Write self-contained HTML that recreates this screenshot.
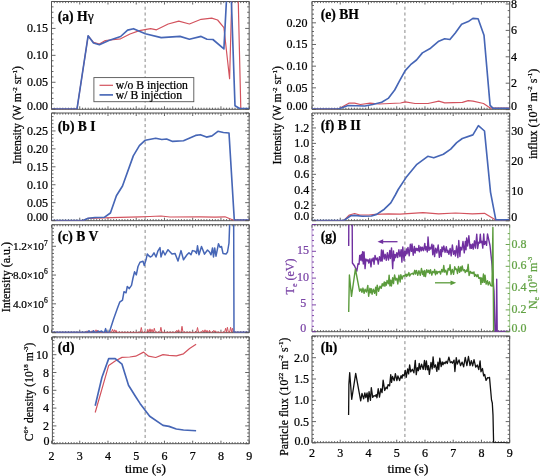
<!DOCTYPE html>
<html><head><meta charset="utf-8"><style>html,body{margin:0;padding:0;background:#fff;width:541px;height:476px;overflow:hidden}svg{will-change:transform}text{stroke-width:0.24px}</style></head><body>
<svg width="541" height="476" viewBox="0 0 541 476" style="display:block;font-family:'Liberation Serif',serif">
<rect width="541" height="476" fill="#fff"/>
<defs>
<clipPath id="clipa"><rect x="51.5" y="1.5" width="197.68" height="107.8"/></clipPath>
<clipPath id="clipb"><rect x="51.5" y="113" width="197.68" height="107.7"/></clipPath>
<clipPath id="clipc"><rect x="52" y="224.7" width="197.18" height="108"/></clipPath>
<clipPath id="clipd"><rect x="52.4" y="336.9" width="196.78" height="106.8"/></clipPath>
<clipPath id="clipe"><rect x="312" y="1.5" width="197.68" height="107.8"/></clipPath>
<clipPath id="clipf"><rect x="312" y="113" width="197.68" height="107.7"/></clipPath>
<clipPath id="clipg"><rect x="312" y="224.7" width="197.68" height="107"/></clipPath>
<clipPath id="cliph"><rect x="312" y="335.9" width="197.68" height="106.8"/></clipPath>
</defs>
<line x1="51.5" y1="1.5" x2="249.18" y2="1.5" stroke="#555555" stroke-width="1.0"/>
<line x1="51.5" y1="109.3" x2="249.18" y2="109.3" stroke="#555555" stroke-width="1.0"/>
<line x1="51.5" y1="1.5" x2="51.5" y2="109.3" stroke="#555555" stroke-width="1.0"/>
<line x1="249.18" y1="1.5" x2="249.18" y2="109.3" stroke="#555555" stroke-width="1.0"/>
<path d="M51.5 109.3v-3.0M51.5 1.5v3.0M54.32 109.3v-1.6M54.32 1.5v1.6M57.15 109.3v-1.6M57.15 1.5v1.6M59.97 109.3v-1.6M59.97 1.5v1.6M62.8 109.3v-1.6M62.8 1.5v1.6M65.62 109.3v-1.6M65.62 1.5v1.6M68.44 109.3v-1.6M68.44 1.5v1.6M71.27 109.3v-1.6M71.27 1.5v1.6M74.09 109.3v-1.6M74.09 1.5v1.6M76.92 109.3v-1.6M76.92 1.5v1.6M79.74 109.3v-3.0M79.74 1.5v3.0M82.56 109.3v-1.6M82.56 1.5v1.6M85.39 109.3v-1.6M85.39 1.5v1.6M88.21 109.3v-1.6M88.21 1.5v1.6M91.04 109.3v-1.6M91.04 1.5v1.6M93.86 109.3v-1.6M93.86 1.5v1.6M96.68 109.3v-1.6M96.68 1.5v1.6M99.51 109.3v-1.6M99.51 1.5v1.6M102.33 109.3v-1.6M102.33 1.5v1.6M105.16 109.3v-1.6M105.16 1.5v1.6M107.98 109.3v-3.0M107.98 1.5v3.0M110.8 109.3v-1.6M110.8 1.5v1.6M113.63 109.3v-1.6M113.63 1.5v1.6M116.45 109.3v-1.6M116.45 1.5v1.6M119.28 109.3v-1.6M119.28 1.5v1.6M122.1 109.3v-1.6M122.1 1.5v1.6M124.92 109.3v-1.6M124.92 1.5v1.6M127.75 109.3v-1.6M127.75 1.5v1.6M130.57 109.3v-1.6M130.57 1.5v1.6M133.4 109.3v-1.6M133.4 1.5v1.6M136.22 109.3v-3.0M136.22 1.5v3.0M139.04 109.3v-1.6M139.04 1.5v1.6M141.87 109.3v-1.6M141.87 1.5v1.6M144.69 109.3v-1.6M144.69 1.5v1.6M147.52 109.3v-1.6M147.52 1.5v1.6M150.34 109.3v-1.6M150.34 1.5v1.6M153.16 109.3v-1.6M153.16 1.5v1.6M155.99 109.3v-1.6M155.99 1.5v1.6M158.81 109.3v-1.6M158.81 1.5v1.6M161.64 109.3v-1.6M161.64 1.5v1.6M164.46 109.3v-3.0M164.46 1.5v3.0M167.28 109.3v-1.6M167.28 1.5v1.6M170.11 109.3v-1.6M170.11 1.5v1.6M172.93 109.3v-1.6M172.93 1.5v1.6M175.76 109.3v-1.6M175.76 1.5v1.6M178.58 109.3v-1.6M178.58 1.5v1.6M181.4 109.3v-1.6M181.4 1.5v1.6M184.23 109.3v-1.6M184.23 1.5v1.6M187.05 109.3v-1.6M187.05 1.5v1.6M189.88 109.3v-1.6M189.88 1.5v1.6M192.7 109.3v-3.0M192.7 1.5v3.0M195.52 109.3v-1.6M195.52 1.5v1.6M198.35 109.3v-1.6M198.35 1.5v1.6M201.17 109.3v-1.6M201.17 1.5v1.6M204 109.3v-1.6M204 1.5v1.6M206.82 109.3v-1.6M206.82 1.5v1.6M209.64 109.3v-1.6M209.64 1.5v1.6M212.47 109.3v-1.6M212.47 1.5v1.6M215.29 109.3v-1.6M215.29 1.5v1.6M218.12 109.3v-1.6M218.12 1.5v1.6M220.94 109.3v-3.0M220.94 1.5v3.0M223.76 109.3v-1.6M223.76 1.5v1.6M226.59 109.3v-1.6M226.59 1.5v1.6M229.41 109.3v-1.6M229.41 1.5v1.6M232.24 109.3v-1.6M232.24 1.5v1.6M235.06 109.3v-1.6M235.06 1.5v1.6M237.88 109.3v-1.6M237.88 1.5v1.6M240.71 109.3v-1.6M240.71 1.5v1.6M243.53 109.3v-1.6M243.53 1.5v1.6M246.36 109.3v-1.6M246.36 1.5v1.6M249.18 109.3v-3.0M249.18 1.5v3.0" stroke="#555555" stroke-width="0.9" fill="none"/>
<line x1="51.5" y1="113" x2="249.18" y2="113" stroke="#555555" stroke-width="1.0"/>
<line x1="51.5" y1="220.7" x2="249.18" y2="220.7" stroke="#555555" stroke-width="1.0"/>
<line x1="51.5" y1="113" x2="51.5" y2="220.7" stroke="#555555" stroke-width="1.0"/>
<line x1="249.18" y1="113" x2="249.18" y2="220.7" stroke="#555555" stroke-width="1.0"/>
<path d="M51.5 220.7v-3.0M51.5 113v3.0M54.32 220.7v-1.6M54.32 113v1.6M57.15 220.7v-1.6M57.15 113v1.6M59.97 220.7v-1.6M59.97 113v1.6M62.8 220.7v-1.6M62.8 113v1.6M65.62 220.7v-1.6M65.62 113v1.6M68.44 220.7v-1.6M68.44 113v1.6M71.27 220.7v-1.6M71.27 113v1.6M74.09 220.7v-1.6M74.09 113v1.6M76.92 220.7v-1.6M76.92 113v1.6M79.74 220.7v-3.0M79.74 113v3.0M82.56 220.7v-1.6M82.56 113v1.6M85.39 220.7v-1.6M85.39 113v1.6M88.21 220.7v-1.6M88.21 113v1.6M91.04 220.7v-1.6M91.04 113v1.6M93.86 220.7v-1.6M93.86 113v1.6M96.68 220.7v-1.6M96.68 113v1.6M99.51 220.7v-1.6M99.51 113v1.6M102.33 220.7v-1.6M102.33 113v1.6M105.16 220.7v-1.6M105.16 113v1.6M107.98 220.7v-3.0M107.98 113v3.0M110.8 220.7v-1.6M110.8 113v1.6M113.63 220.7v-1.6M113.63 113v1.6M116.45 220.7v-1.6M116.45 113v1.6M119.28 220.7v-1.6M119.28 113v1.6M122.1 220.7v-1.6M122.1 113v1.6M124.92 220.7v-1.6M124.92 113v1.6M127.75 220.7v-1.6M127.75 113v1.6M130.57 220.7v-1.6M130.57 113v1.6M133.4 220.7v-1.6M133.4 113v1.6M136.22 220.7v-3.0M136.22 113v3.0M139.04 220.7v-1.6M139.04 113v1.6M141.87 220.7v-1.6M141.87 113v1.6M144.69 220.7v-1.6M144.69 113v1.6M147.52 220.7v-1.6M147.52 113v1.6M150.34 220.7v-1.6M150.34 113v1.6M153.16 220.7v-1.6M153.16 113v1.6M155.99 220.7v-1.6M155.99 113v1.6M158.81 220.7v-1.6M158.81 113v1.6M161.64 220.7v-1.6M161.64 113v1.6M164.46 220.7v-3.0M164.46 113v3.0M167.28 220.7v-1.6M167.28 113v1.6M170.11 220.7v-1.6M170.11 113v1.6M172.93 220.7v-1.6M172.93 113v1.6M175.76 220.7v-1.6M175.76 113v1.6M178.58 220.7v-1.6M178.58 113v1.6M181.4 220.7v-1.6M181.4 113v1.6M184.23 220.7v-1.6M184.23 113v1.6M187.05 220.7v-1.6M187.05 113v1.6M189.88 220.7v-1.6M189.88 113v1.6M192.7 220.7v-3.0M192.7 113v3.0M195.52 220.7v-1.6M195.52 113v1.6M198.35 220.7v-1.6M198.35 113v1.6M201.17 220.7v-1.6M201.17 113v1.6M204 220.7v-1.6M204 113v1.6M206.82 220.7v-1.6M206.82 113v1.6M209.64 220.7v-1.6M209.64 113v1.6M212.47 220.7v-1.6M212.47 113v1.6M215.29 220.7v-1.6M215.29 113v1.6M218.12 220.7v-1.6M218.12 113v1.6M220.94 220.7v-3.0M220.94 113v3.0M223.76 220.7v-1.6M223.76 113v1.6M226.59 220.7v-1.6M226.59 113v1.6M229.41 220.7v-1.6M229.41 113v1.6M232.24 220.7v-1.6M232.24 113v1.6M235.06 220.7v-1.6M235.06 113v1.6M237.88 220.7v-1.6M237.88 113v1.6M240.71 220.7v-1.6M240.71 113v1.6M243.53 220.7v-1.6M243.53 113v1.6M246.36 220.7v-1.6M246.36 113v1.6M249.18 220.7v-3.0M249.18 113v3.0" stroke="#555555" stroke-width="0.9" fill="none"/>
<line x1="52" y1="224.7" x2="249.18" y2="224.7" stroke="#555555" stroke-width="1.0"/>
<line x1="52" y1="332.7" x2="249.18" y2="332.7" stroke="#555555" stroke-width="1.0"/>
<line x1="52" y1="224.7" x2="52" y2="332.7" stroke="#555555" stroke-width="1.0"/>
<line x1="249.18" y1="224.7" x2="249.18" y2="332.7" stroke="#555555" stroke-width="1.0"/>
<path d="M51.5 332.7v-3.0M51.5 224.7v3.0M54.32 332.7v-1.6M54.32 224.7v1.6M57.15 332.7v-1.6M57.15 224.7v1.6M59.97 332.7v-1.6M59.97 224.7v1.6M62.8 332.7v-1.6M62.8 224.7v1.6M65.62 332.7v-1.6M65.62 224.7v1.6M68.44 332.7v-1.6M68.44 224.7v1.6M71.27 332.7v-1.6M71.27 224.7v1.6M74.09 332.7v-1.6M74.09 224.7v1.6M76.92 332.7v-1.6M76.92 224.7v1.6M79.74 332.7v-3.0M79.74 224.7v3.0M82.56 332.7v-1.6M82.56 224.7v1.6M85.39 332.7v-1.6M85.39 224.7v1.6M88.21 332.7v-1.6M88.21 224.7v1.6M91.04 332.7v-1.6M91.04 224.7v1.6M93.86 332.7v-1.6M93.86 224.7v1.6M96.68 332.7v-1.6M96.68 224.7v1.6M99.51 332.7v-1.6M99.51 224.7v1.6M102.33 332.7v-1.6M102.33 224.7v1.6M105.16 332.7v-1.6M105.16 224.7v1.6M107.98 332.7v-3.0M107.98 224.7v3.0M110.8 332.7v-1.6M110.8 224.7v1.6M113.63 332.7v-1.6M113.63 224.7v1.6M116.45 332.7v-1.6M116.45 224.7v1.6M119.28 332.7v-1.6M119.28 224.7v1.6M122.1 332.7v-1.6M122.1 224.7v1.6M124.92 332.7v-1.6M124.92 224.7v1.6M127.75 332.7v-1.6M127.75 224.7v1.6M130.57 332.7v-1.6M130.57 224.7v1.6M133.4 332.7v-1.6M133.4 224.7v1.6M136.22 332.7v-3.0M136.22 224.7v3.0M139.04 332.7v-1.6M139.04 224.7v1.6M141.87 332.7v-1.6M141.87 224.7v1.6M144.69 332.7v-1.6M144.69 224.7v1.6M147.52 332.7v-1.6M147.52 224.7v1.6M150.34 332.7v-1.6M150.34 224.7v1.6M153.16 332.7v-1.6M153.16 224.7v1.6M155.99 332.7v-1.6M155.99 224.7v1.6M158.81 332.7v-1.6M158.81 224.7v1.6M161.64 332.7v-1.6M161.64 224.7v1.6M164.46 332.7v-3.0M164.46 224.7v3.0M167.28 332.7v-1.6M167.28 224.7v1.6M170.11 332.7v-1.6M170.11 224.7v1.6M172.93 332.7v-1.6M172.93 224.7v1.6M175.76 332.7v-1.6M175.76 224.7v1.6M178.58 332.7v-1.6M178.58 224.7v1.6M181.4 332.7v-1.6M181.4 224.7v1.6M184.23 332.7v-1.6M184.23 224.7v1.6M187.05 332.7v-1.6M187.05 224.7v1.6M189.88 332.7v-1.6M189.88 224.7v1.6M192.7 332.7v-3.0M192.7 224.7v3.0M195.52 332.7v-1.6M195.52 224.7v1.6M198.35 332.7v-1.6M198.35 224.7v1.6M201.17 332.7v-1.6M201.17 224.7v1.6M204 332.7v-1.6M204 224.7v1.6M206.82 332.7v-1.6M206.82 224.7v1.6M209.64 332.7v-1.6M209.64 224.7v1.6M212.47 332.7v-1.6M212.47 224.7v1.6M215.29 332.7v-1.6M215.29 224.7v1.6M218.12 332.7v-1.6M218.12 224.7v1.6M220.94 332.7v-3.0M220.94 224.7v3.0M223.76 332.7v-1.6M223.76 224.7v1.6M226.59 332.7v-1.6M226.59 224.7v1.6M229.41 332.7v-1.6M229.41 224.7v1.6M232.24 332.7v-1.6M232.24 224.7v1.6M235.06 332.7v-1.6M235.06 224.7v1.6M237.88 332.7v-1.6M237.88 224.7v1.6M240.71 332.7v-1.6M240.71 224.7v1.6M243.53 332.7v-1.6M243.53 224.7v1.6M246.36 332.7v-1.6M246.36 224.7v1.6M249.18 332.7v-3.0M249.18 224.7v3.0" stroke="#555555" stroke-width="0.9" fill="none"/>
<line x1="52.4" y1="336.9" x2="249.18" y2="336.9" stroke="#555555" stroke-width="1.0"/>
<line x1="52.4" y1="443.7" x2="249.18" y2="443.7" stroke="#555555" stroke-width="1.0"/>
<line x1="52.4" y1="336.9" x2="52.4" y2="443.7" stroke="#555555" stroke-width="1.0"/>
<line x1="249.18" y1="336.9" x2="249.18" y2="443.7" stroke="#555555" stroke-width="1.0"/>
<path d="M51.5 443.7v-3.0M51.5 336.9v3.0M54.32 443.7v-1.6M54.32 336.9v1.6M57.15 443.7v-1.6M57.15 336.9v1.6M59.97 443.7v-1.6M59.97 336.9v1.6M62.8 443.7v-1.6M62.8 336.9v1.6M65.62 443.7v-1.6M65.62 336.9v1.6M68.44 443.7v-1.6M68.44 336.9v1.6M71.27 443.7v-1.6M71.27 336.9v1.6M74.09 443.7v-1.6M74.09 336.9v1.6M76.92 443.7v-1.6M76.92 336.9v1.6M79.74 443.7v-3.0M79.74 336.9v3.0M82.56 443.7v-1.6M82.56 336.9v1.6M85.39 443.7v-1.6M85.39 336.9v1.6M88.21 443.7v-1.6M88.21 336.9v1.6M91.04 443.7v-1.6M91.04 336.9v1.6M93.86 443.7v-1.6M93.86 336.9v1.6M96.68 443.7v-1.6M96.68 336.9v1.6M99.51 443.7v-1.6M99.51 336.9v1.6M102.33 443.7v-1.6M102.33 336.9v1.6M105.16 443.7v-1.6M105.16 336.9v1.6M107.98 443.7v-3.0M107.98 336.9v3.0M110.8 443.7v-1.6M110.8 336.9v1.6M113.63 443.7v-1.6M113.63 336.9v1.6M116.45 443.7v-1.6M116.45 336.9v1.6M119.28 443.7v-1.6M119.28 336.9v1.6M122.1 443.7v-1.6M122.1 336.9v1.6M124.92 443.7v-1.6M124.92 336.9v1.6M127.75 443.7v-1.6M127.75 336.9v1.6M130.57 443.7v-1.6M130.57 336.9v1.6M133.4 443.7v-1.6M133.4 336.9v1.6M136.22 443.7v-3.0M136.22 336.9v3.0M139.04 443.7v-1.6M139.04 336.9v1.6M141.87 443.7v-1.6M141.87 336.9v1.6M144.69 443.7v-1.6M144.69 336.9v1.6M147.52 443.7v-1.6M147.52 336.9v1.6M150.34 443.7v-1.6M150.34 336.9v1.6M153.16 443.7v-1.6M153.16 336.9v1.6M155.99 443.7v-1.6M155.99 336.9v1.6M158.81 443.7v-1.6M158.81 336.9v1.6M161.64 443.7v-1.6M161.64 336.9v1.6M164.46 443.7v-3.0M164.46 336.9v3.0M167.28 443.7v-1.6M167.28 336.9v1.6M170.11 443.7v-1.6M170.11 336.9v1.6M172.93 443.7v-1.6M172.93 336.9v1.6M175.76 443.7v-1.6M175.76 336.9v1.6M178.58 443.7v-1.6M178.58 336.9v1.6M181.4 443.7v-1.6M181.4 336.9v1.6M184.23 443.7v-1.6M184.23 336.9v1.6M187.05 443.7v-1.6M187.05 336.9v1.6M189.88 443.7v-1.6M189.88 336.9v1.6M192.7 443.7v-3.0M192.7 336.9v3.0M195.52 443.7v-1.6M195.52 336.9v1.6M198.35 443.7v-1.6M198.35 336.9v1.6M201.17 443.7v-1.6M201.17 336.9v1.6M204 443.7v-1.6M204 336.9v1.6M206.82 443.7v-1.6M206.82 336.9v1.6M209.64 443.7v-1.6M209.64 336.9v1.6M212.47 443.7v-1.6M212.47 336.9v1.6M215.29 443.7v-1.6M215.29 336.9v1.6M218.12 443.7v-1.6M218.12 336.9v1.6M220.94 443.7v-3.0M220.94 336.9v3.0M223.76 443.7v-1.6M223.76 336.9v1.6M226.59 443.7v-1.6M226.59 336.9v1.6M229.41 443.7v-1.6M229.41 336.9v1.6M232.24 443.7v-1.6M232.24 336.9v1.6M235.06 443.7v-1.6M235.06 336.9v1.6M237.88 443.7v-1.6M237.88 336.9v1.6M240.71 443.7v-1.6M240.71 336.9v1.6M243.53 443.7v-1.6M243.53 336.9v1.6M246.36 443.7v-1.6M246.36 336.9v1.6M249.18 443.7v-3.0M249.18 336.9v3.0" stroke="#555555" stroke-width="0.9" fill="none"/>
<line x1="312" y1="1.5" x2="509.68" y2="1.5" stroke="#555555" stroke-width="1.0"/>
<line x1="312" y1="109.3" x2="509.68" y2="109.3" stroke="#555555" stroke-width="1.0"/>
<line x1="312" y1="1.5" x2="312" y2="109.3" stroke="#555555" stroke-width="1.0"/>
<line x1="509.68" y1="1.5" x2="509.68" y2="109.3" stroke="#555555" stroke-width="1.0"/>
<path d="M312 109.3v-3.0M312 1.5v3.0M314.82 109.3v-1.6M314.82 1.5v1.6M317.65 109.3v-1.6M317.65 1.5v1.6M320.47 109.3v-1.6M320.47 1.5v1.6M323.3 109.3v-1.6M323.3 1.5v1.6M326.12 109.3v-1.6M326.12 1.5v1.6M328.94 109.3v-1.6M328.94 1.5v1.6M331.77 109.3v-1.6M331.77 1.5v1.6M334.59 109.3v-1.6M334.59 1.5v1.6M337.42 109.3v-1.6M337.42 1.5v1.6M340.24 109.3v-3.0M340.24 1.5v3.0M343.06 109.3v-1.6M343.06 1.5v1.6M345.89 109.3v-1.6M345.89 1.5v1.6M348.71 109.3v-1.6M348.71 1.5v1.6M351.54 109.3v-1.6M351.54 1.5v1.6M354.36 109.3v-1.6M354.36 1.5v1.6M357.18 109.3v-1.6M357.18 1.5v1.6M360.01 109.3v-1.6M360.01 1.5v1.6M362.83 109.3v-1.6M362.83 1.5v1.6M365.66 109.3v-1.6M365.66 1.5v1.6M368.48 109.3v-3.0M368.48 1.5v3.0M371.3 109.3v-1.6M371.3 1.5v1.6M374.13 109.3v-1.6M374.13 1.5v1.6M376.95 109.3v-1.6M376.95 1.5v1.6M379.78 109.3v-1.6M379.78 1.5v1.6M382.6 109.3v-1.6M382.6 1.5v1.6M385.42 109.3v-1.6M385.42 1.5v1.6M388.25 109.3v-1.6M388.25 1.5v1.6M391.07 109.3v-1.6M391.07 1.5v1.6M393.9 109.3v-1.6M393.9 1.5v1.6M396.72 109.3v-3.0M396.72 1.5v3.0M399.54 109.3v-1.6M399.54 1.5v1.6M402.37 109.3v-1.6M402.37 1.5v1.6M405.19 109.3v-1.6M405.19 1.5v1.6M408.02 109.3v-1.6M408.02 1.5v1.6M410.84 109.3v-1.6M410.84 1.5v1.6M413.66 109.3v-1.6M413.66 1.5v1.6M416.49 109.3v-1.6M416.49 1.5v1.6M419.31 109.3v-1.6M419.31 1.5v1.6M422.14 109.3v-1.6M422.14 1.5v1.6M424.96 109.3v-3.0M424.96 1.5v3.0M427.78 109.3v-1.6M427.78 1.5v1.6M430.61 109.3v-1.6M430.61 1.5v1.6M433.43 109.3v-1.6M433.43 1.5v1.6M436.26 109.3v-1.6M436.26 1.5v1.6M439.08 109.3v-1.6M439.08 1.5v1.6M441.9 109.3v-1.6M441.9 1.5v1.6M444.73 109.3v-1.6M444.73 1.5v1.6M447.55 109.3v-1.6M447.55 1.5v1.6M450.38 109.3v-1.6M450.38 1.5v1.6M453.2 109.3v-3.0M453.2 1.5v3.0M456.02 109.3v-1.6M456.02 1.5v1.6M458.85 109.3v-1.6M458.85 1.5v1.6M461.67 109.3v-1.6M461.67 1.5v1.6M464.5 109.3v-1.6M464.5 1.5v1.6M467.32 109.3v-1.6M467.32 1.5v1.6M470.14 109.3v-1.6M470.14 1.5v1.6M472.97 109.3v-1.6M472.97 1.5v1.6M475.79 109.3v-1.6M475.79 1.5v1.6M478.62 109.3v-1.6M478.62 1.5v1.6M481.44 109.3v-3.0M481.44 1.5v3.0M484.26 109.3v-1.6M484.26 1.5v1.6M487.09 109.3v-1.6M487.09 1.5v1.6M489.91 109.3v-1.6M489.91 1.5v1.6M492.74 109.3v-1.6M492.74 1.5v1.6M495.56 109.3v-1.6M495.56 1.5v1.6M498.38 109.3v-1.6M498.38 1.5v1.6M501.21 109.3v-1.6M501.21 1.5v1.6M504.03 109.3v-1.6M504.03 1.5v1.6M506.86 109.3v-1.6M506.86 1.5v1.6M509.68 109.3v-3.0M509.68 1.5v3.0" stroke="#555555" stroke-width="0.9" fill="none"/>
<line x1="312" y1="113" x2="509.68" y2="113" stroke="#555555" stroke-width="1.0"/>
<line x1="312" y1="220.7" x2="509.68" y2="220.7" stroke="#555555" stroke-width="1.0"/>
<line x1="312" y1="113" x2="312" y2="220.7" stroke="#555555" stroke-width="1.0"/>
<line x1="509.68" y1="113" x2="509.68" y2="220.7" stroke="#555555" stroke-width="1.0"/>
<path d="M312 220.7v-3.0M312 113v3.0M314.82 220.7v-1.6M314.82 113v1.6M317.65 220.7v-1.6M317.65 113v1.6M320.47 220.7v-1.6M320.47 113v1.6M323.3 220.7v-1.6M323.3 113v1.6M326.12 220.7v-1.6M326.12 113v1.6M328.94 220.7v-1.6M328.94 113v1.6M331.77 220.7v-1.6M331.77 113v1.6M334.59 220.7v-1.6M334.59 113v1.6M337.42 220.7v-1.6M337.42 113v1.6M340.24 220.7v-3.0M340.24 113v3.0M343.06 220.7v-1.6M343.06 113v1.6M345.89 220.7v-1.6M345.89 113v1.6M348.71 220.7v-1.6M348.71 113v1.6M351.54 220.7v-1.6M351.54 113v1.6M354.36 220.7v-1.6M354.36 113v1.6M357.18 220.7v-1.6M357.18 113v1.6M360.01 220.7v-1.6M360.01 113v1.6M362.83 220.7v-1.6M362.83 113v1.6M365.66 220.7v-1.6M365.66 113v1.6M368.48 220.7v-3.0M368.48 113v3.0M371.3 220.7v-1.6M371.3 113v1.6M374.13 220.7v-1.6M374.13 113v1.6M376.95 220.7v-1.6M376.95 113v1.6M379.78 220.7v-1.6M379.78 113v1.6M382.6 220.7v-1.6M382.6 113v1.6M385.42 220.7v-1.6M385.42 113v1.6M388.25 220.7v-1.6M388.25 113v1.6M391.07 220.7v-1.6M391.07 113v1.6M393.9 220.7v-1.6M393.9 113v1.6M396.72 220.7v-3.0M396.72 113v3.0M399.54 220.7v-1.6M399.54 113v1.6M402.37 220.7v-1.6M402.37 113v1.6M405.19 220.7v-1.6M405.19 113v1.6M408.02 220.7v-1.6M408.02 113v1.6M410.84 220.7v-1.6M410.84 113v1.6M413.66 220.7v-1.6M413.66 113v1.6M416.49 220.7v-1.6M416.49 113v1.6M419.31 220.7v-1.6M419.31 113v1.6M422.14 220.7v-1.6M422.14 113v1.6M424.96 220.7v-3.0M424.96 113v3.0M427.78 220.7v-1.6M427.78 113v1.6M430.61 220.7v-1.6M430.61 113v1.6M433.43 220.7v-1.6M433.43 113v1.6M436.26 220.7v-1.6M436.26 113v1.6M439.08 220.7v-1.6M439.08 113v1.6M441.9 220.7v-1.6M441.9 113v1.6M444.73 220.7v-1.6M444.73 113v1.6M447.55 220.7v-1.6M447.55 113v1.6M450.38 220.7v-1.6M450.38 113v1.6M453.2 220.7v-3.0M453.2 113v3.0M456.02 220.7v-1.6M456.02 113v1.6M458.85 220.7v-1.6M458.85 113v1.6M461.67 220.7v-1.6M461.67 113v1.6M464.5 220.7v-1.6M464.5 113v1.6M467.32 220.7v-1.6M467.32 113v1.6M470.14 220.7v-1.6M470.14 113v1.6M472.97 220.7v-1.6M472.97 113v1.6M475.79 220.7v-1.6M475.79 113v1.6M478.62 220.7v-1.6M478.62 113v1.6M481.44 220.7v-3.0M481.44 113v3.0M484.26 220.7v-1.6M484.26 113v1.6M487.09 220.7v-1.6M487.09 113v1.6M489.91 220.7v-1.6M489.91 113v1.6M492.74 220.7v-1.6M492.74 113v1.6M495.56 220.7v-1.6M495.56 113v1.6M498.38 220.7v-1.6M498.38 113v1.6M501.21 220.7v-1.6M501.21 113v1.6M504.03 220.7v-1.6M504.03 113v1.6M506.86 220.7v-1.6M506.86 113v1.6M509.68 220.7v-3.0M509.68 113v3.0" stroke="#555555" stroke-width="0.9" fill="none"/>
<line x1="312" y1="224.7" x2="509.68" y2="224.7" stroke="#555555" stroke-width="1.0"/>
<line x1="312" y1="331.7" x2="509.68" y2="331.7" stroke="#555555" stroke-width="1.0"/>
<line x1="312" y1="224.7" x2="312" y2="331.7" stroke="#b99ad0" stroke-width="1.0"/>
<line x1="509.68" y1="224.7" x2="509.68" y2="331.7" stroke="#9cc58a" stroke-width="1.0"/>
<path d="M312 331.7v-3.0M312 224.7v3.0M314.82 331.7v-1.6M314.82 224.7v1.6M317.65 331.7v-1.6M317.65 224.7v1.6M320.47 331.7v-1.6M320.47 224.7v1.6M323.3 331.7v-1.6M323.3 224.7v1.6M326.12 331.7v-1.6M326.12 224.7v1.6M328.94 331.7v-1.6M328.94 224.7v1.6M331.77 331.7v-1.6M331.77 224.7v1.6M334.59 331.7v-1.6M334.59 224.7v1.6M337.42 331.7v-1.6M337.42 224.7v1.6M340.24 331.7v-3.0M340.24 224.7v3.0M343.06 331.7v-1.6M343.06 224.7v1.6M345.89 331.7v-1.6M345.89 224.7v1.6M348.71 331.7v-1.6M348.71 224.7v1.6M351.54 331.7v-1.6M351.54 224.7v1.6M354.36 331.7v-1.6M354.36 224.7v1.6M357.18 331.7v-1.6M357.18 224.7v1.6M360.01 331.7v-1.6M360.01 224.7v1.6M362.83 331.7v-1.6M362.83 224.7v1.6M365.66 331.7v-1.6M365.66 224.7v1.6M368.48 331.7v-3.0M368.48 224.7v3.0M371.3 331.7v-1.6M371.3 224.7v1.6M374.13 331.7v-1.6M374.13 224.7v1.6M376.95 331.7v-1.6M376.95 224.7v1.6M379.78 331.7v-1.6M379.78 224.7v1.6M382.6 331.7v-1.6M382.6 224.7v1.6M385.42 331.7v-1.6M385.42 224.7v1.6M388.25 331.7v-1.6M388.25 224.7v1.6M391.07 331.7v-1.6M391.07 224.7v1.6M393.9 331.7v-1.6M393.9 224.7v1.6M396.72 331.7v-3.0M396.72 224.7v3.0M399.54 331.7v-1.6M399.54 224.7v1.6M402.37 331.7v-1.6M402.37 224.7v1.6M405.19 331.7v-1.6M405.19 224.7v1.6M408.02 331.7v-1.6M408.02 224.7v1.6M410.84 331.7v-1.6M410.84 224.7v1.6M413.66 331.7v-1.6M413.66 224.7v1.6M416.49 331.7v-1.6M416.49 224.7v1.6M419.31 331.7v-1.6M419.31 224.7v1.6M422.14 331.7v-1.6M422.14 224.7v1.6M424.96 331.7v-3.0M424.96 224.7v3.0M427.78 331.7v-1.6M427.78 224.7v1.6M430.61 331.7v-1.6M430.61 224.7v1.6M433.43 331.7v-1.6M433.43 224.7v1.6M436.26 331.7v-1.6M436.26 224.7v1.6M439.08 331.7v-1.6M439.08 224.7v1.6M441.9 331.7v-1.6M441.9 224.7v1.6M444.73 331.7v-1.6M444.73 224.7v1.6M447.55 331.7v-1.6M447.55 224.7v1.6M450.38 331.7v-1.6M450.38 224.7v1.6M453.2 331.7v-3.0M453.2 224.7v3.0M456.02 331.7v-1.6M456.02 224.7v1.6M458.85 331.7v-1.6M458.85 224.7v1.6M461.67 331.7v-1.6M461.67 224.7v1.6M464.5 331.7v-1.6M464.5 224.7v1.6M467.32 331.7v-1.6M467.32 224.7v1.6M470.14 331.7v-1.6M470.14 224.7v1.6M472.97 331.7v-1.6M472.97 224.7v1.6M475.79 331.7v-1.6M475.79 224.7v1.6M478.62 331.7v-1.6M478.62 224.7v1.6M481.44 331.7v-3.0M481.44 224.7v3.0M484.26 331.7v-1.6M484.26 224.7v1.6M487.09 331.7v-1.6M487.09 224.7v1.6M489.91 331.7v-1.6M489.91 224.7v1.6M492.74 331.7v-1.6M492.74 224.7v1.6M495.56 331.7v-1.6M495.56 224.7v1.6M498.38 331.7v-1.6M498.38 224.7v1.6M501.21 331.7v-1.6M501.21 224.7v1.6M504.03 331.7v-1.6M504.03 224.7v1.6M506.86 331.7v-1.6M506.86 224.7v1.6M509.68 331.7v-3.0M509.68 224.7v3.0" stroke="#555555" stroke-width="0.9" fill="none"/>
<line x1="312" y1="335.9" x2="509.68" y2="335.9" stroke="#555555" stroke-width="1.0"/>
<line x1="312" y1="442.7" x2="509.68" y2="442.7" stroke="#555555" stroke-width="1.0"/>
<line x1="312" y1="335.9" x2="312" y2="442.7" stroke="#555555" stroke-width="1.0"/>
<line x1="509.68" y1="335.9" x2="509.68" y2="442.7" stroke="#555555" stroke-width="1.0"/>
<path d="M312 442.7v-3.0M312 335.9v3.0M314.82 442.7v-1.6M314.82 335.9v1.6M317.65 442.7v-1.6M317.65 335.9v1.6M320.47 442.7v-1.6M320.47 335.9v1.6M323.3 442.7v-1.6M323.3 335.9v1.6M326.12 442.7v-1.6M326.12 335.9v1.6M328.94 442.7v-1.6M328.94 335.9v1.6M331.77 442.7v-1.6M331.77 335.9v1.6M334.59 442.7v-1.6M334.59 335.9v1.6M337.42 442.7v-1.6M337.42 335.9v1.6M340.24 442.7v-3.0M340.24 335.9v3.0M343.06 442.7v-1.6M343.06 335.9v1.6M345.89 442.7v-1.6M345.89 335.9v1.6M348.71 442.7v-1.6M348.71 335.9v1.6M351.54 442.7v-1.6M351.54 335.9v1.6M354.36 442.7v-1.6M354.36 335.9v1.6M357.18 442.7v-1.6M357.18 335.9v1.6M360.01 442.7v-1.6M360.01 335.9v1.6M362.83 442.7v-1.6M362.83 335.9v1.6M365.66 442.7v-1.6M365.66 335.9v1.6M368.48 442.7v-3.0M368.48 335.9v3.0M371.3 442.7v-1.6M371.3 335.9v1.6M374.13 442.7v-1.6M374.13 335.9v1.6M376.95 442.7v-1.6M376.95 335.9v1.6M379.78 442.7v-1.6M379.78 335.9v1.6M382.6 442.7v-1.6M382.6 335.9v1.6M385.42 442.7v-1.6M385.42 335.9v1.6M388.25 442.7v-1.6M388.25 335.9v1.6M391.07 442.7v-1.6M391.07 335.9v1.6M393.9 442.7v-1.6M393.9 335.9v1.6M396.72 442.7v-3.0M396.72 335.9v3.0M399.54 442.7v-1.6M399.54 335.9v1.6M402.37 442.7v-1.6M402.37 335.9v1.6M405.19 442.7v-1.6M405.19 335.9v1.6M408.02 442.7v-1.6M408.02 335.9v1.6M410.84 442.7v-1.6M410.84 335.9v1.6M413.66 442.7v-1.6M413.66 335.9v1.6M416.49 442.7v-1.6M416.49 335.9v1.6M419.31 442.7v-1.6M419.31 335.9v1.6M422.14 442.7v-1.6M422.14 335.9v1.6M424.96 442.7v-3.0M424.96 335.9v3.0M427.78 442.7v-1.6M427.78 335.9v1.6M430.61 442.7v-1.6M430.61 335.9v1.6M433.43 442.7v-1.6M433.43 335.9v1.6M436.26 442.7v-1.6M436.26 335.9v1.6M439.08 442.7v-1.6M439.08 335.9v1.6M441.9 442.7v-1.6M441.9 335.9v1.6M444.73 442.7v-1.6M444.73 335.9v1.6M447.55 442.7v-1.6M447.55 335.9v1.6M450.38 442.7v-1.6M450.38 335.9v1.6M453.2 442.7v-3.0M453.2 335.9v3.0M456.02 442.7v-1.6M456.02 335.9v1.6M458.85 442.7v-1.6M458.85 335.9v1.6M461.67 442.7v-1.6M461.67 335.9v1.6M464.5 442.7v-1.6M464.5 335.9v1.6M467.32 442.7v-1.6M467.32 335.9v1.6M470.14 442.7v-1.6M470.14 335.9v1.6M472.97 442.7v-1.6M472.97 335.9v1.6M475.79 442.7v-1.6M475.79 335.9v1.6M478.62 442.7v-1.6M478.62 335.9v1.6M481.44 442.7v-3.0M481.44 335.9v3.0M484.26 442.7v-1.6M484.26 335.9v1.6M487.09 442.7v-1.6M487.09 335.9v1.6M489.91 442.7v-1.6M489.91 335.9v1.6M492.74 442.7v-1.6M492.74 335.9v1.6M495.56 442.7v-1.6M495.56 335.9v1.6M498.38 442.7v-1.6M498.38 335.9v1.6M501.21 442.7v-1.6M501.21 335.9v1.6M504.03 442.7v-1.6M504.03 335.9v1.6M506.86 442.7v-1.6M506.86 335.9v1.6M509.68 442.7v-3.0M509.68 335.9v3.0" stroke="#555555" stroke-width="0.9" fill="none"/>
<line x1="145.14" y1="1.5" x2="145.14" y2="109.3" stroke="#8a8a8a" stroke-width="1" stroke-dasharray="3.1 2.7" stroke-dashoffset="0.6"/>
<line x1="145.14" y1="113" x2="145.14" y2="220.7" stroke="#8a8a8a" stroke-width="1" stroke-dasharray="3.1 2.7" stroke-dashoffset="0.6"/>
<line x1="145.14" y1="224.7" x2="145.14" y2="332.7" stroke="#8a8a8a" stroke-width="1" stroke-dasharray="3.1 2.7" stroke-dashoffset="0.6"/>
<line x1="145.14" y1="336.9" x2="145.14" y2="443.7" stroke="#8a8a8a" stroke-width="1" stroke-dasharray="3.1 2.7" stroke-dashoffset="0.6"/>
<line x1="404.91" y1="1.5" x2="404.91" y2="109.3" stroke="#8a8a8a" stroke-width="1" stroke-dasharray="3.1 2.7" stroke-dashoffset="0.6"/>
<line x1="404.91" y1="113" x2="404.91" y2="220.7" stroke="#8a8a8a" stroke-width="1" stroke-dasharray="3.1 2.7" stroke-dashoffset="0.6"/>
<line x1="404.91" y1="224.7" x2="404.91" y2="331.7" stroke="#8a8a8a" stroke-width="1" stroke-dasharray="3.1 2.7" stroke-dashoffset="0.6"/>
<line x1="404.91" y1="335.9" x2="404.91" y2="442.7" stroke="#8a8a8a" stroke-width="1" stroke-dasharray="3.1 2.7" stroke-dashoffset="0.6"/>
<polyline points="51.5,109 77,109 88.1,36 93.5,42.4 99.4,44 105.3,40.5 120.6,38.8 130,34 139.4,30.6 150.6,28.7 156.5,29.8 168.2,24 178.8,21.2 189.4,24 201.1,19.3 211.7,18.1 217.6,20 223.9,27.7 229.6,78.7 232,-10 238,-10 240.8,108.5 249.2,108.5" fill="none" stroke="#d3535e" stroke-width="1.2" stroke-linejoin="round" clip-path="url(#clipa)"/>
<polyline points="51.5,109 77,109 88.1,35.8 93.5,43 99.4,44.7 108.8,40.5 120.6,36.5 127.6,30.1 133.5,28.7 139.4,31.3 145.3,33.8 161.2,37.6 180,36.4 189.4,39.2 201.1,36.4 207,39.2 212.9,39.5 223.9,48.9 227,-10 231,-10 235,105.7 239.7,108.5 249.2,108.5" fill="none" stroke="#4666b6" stroke-width="1.65" stroke-linejoin="round" clip-path="url(#clipa)"/>
<rect x="93.9" y="77.6" width="99.9" height="24.1" fill="#fff" stroke="#555" stroke-width="0.9"/>
<line x1="99.5" y1="85.3" x2="113" y2="85.3" stroke="#d3535e" stroke-width="1.2"/>
<line x1="99.5" y1="94.9" x2="113" y2="94.9" stroke="#4666b6" stroke-width="1.65"/>
<text x="115.8" y="89.2" font-size="11.7" text-anchor="start" fill="#000" stroke="#000">w/o B injection</text>
<text x="115.8" y="98.8" font-size="11.7" text-anchor="start" fill="#000" stroke="#000">w/ B injection</text>
<polyline points="51.5,220.6 83,220.6 88.2,218.3 104,217.8 120,217.3 140,216.9 150,216.5 161,216 170,217 200,216.8 215,217.2 225,216.8 233,220 249.2,220" fill="none" stroke="#d3535e" stroke-width="1.2" stroke-linejoin="round" clip-path="url(#clipb)"/>
<polyline points="51.5,220.6 83,220.6 88.2,218.2 95,217.5 104.3,217.3 110.4,213 116.4,195.7 122.5,186 133.3,155.9 139.4,145.7 145.3,140.2 155.7,138.3 161.8,139.5 166.6,139 172.6,141.4 183.5,140.7 195.6,135.4 200.4,134.7 206.5,137.1 212,135.9 217.9,131.3 223.4,132.5 229,133 234.3,220 249.2,220" fill="none" stroke="#4666b6" stroke-width="1.65" stroke-linejoin="round" clip-path="url(#clipb)"/>
<polyline points="51.5,332.3 86.1,332.3 87.1,330.8 88.1,332.3 91,332.3 92,330.8 93,332.3 92.5,332.3 93.5,330.3 94.5,332.3 95,332.3 96,329.8 97,332.3 96.5,332.3 97.5,330.3 98.5,332.3 111.5,332.3 112.5,329.3 113.5,332.3 113.5,332.3 114.5,329.8 115.5,332.3 115,332.3 116,330.3 117,332.3 140.3,332.3 141.3,327.5 142.3,332.3 146.8,332.3 147.8,329.3 148.8,332.3 149,332.3 150,328.8 151,332.3 151,332.3 152,329.3 153,332.3 153.3,332.3 154.3,328.3 155.3,332.3 159.9,332.3 160.9,327.3 161.9,332.3 175.8,332.3 176.8,330.3 177.8,332.3 177.6,332.3 178.6,329.8 179.6,332.3 181,332.3 182,326.3 183,332.3 196.5,332.3 197.5,327.5 198.5,332.3 201.8,332.3 202.8,330.3 203.8,332.3 204,332.3 205,329.8 206,332.3 206,332.3 207,330.3 208,332.3 208.5,332.3 209.5,330.3 210.5,332.3 212.8,332.3 213.8,330.3 214.8,332.3 214.5,332.3 215.5,330.8 216.5,332.3 224.6,332.3 225.6,328.3 226.6,332.3 226.4,332.3 227.4,327.3 228.4,332.3 229.6,332.3 230.6,327.3 231.6,332.3 231.5,332.3 232.5,328.3 233.5,332.3 249.2,332.3" fill="none" stroke="#d3535e" stroke-width="1.0" stroke-linejoin="round" clip-path="url(#clipc)"/>
<polyline points="51.5,332.2 88,332.2 89,330.8 90,332.2 92.5,332.2 93.5,330.8 94.5,332.2 97,332.2 98.5,331 99.5,332.2 101.5,331 102.5,332.2 104.5,332.2 105.6,328.6 106.6,332.2 109.4,332 113.6,319 117.7,307.5 119.7,302.2 122.5,300.1 124,291.7 126,292.8 127.3,286.5 129.2,288.6 131.5,285.4 133,278 134.6,271.8 136.3,274.9 138,266.5 140,262.3 143,261.3 144.3,265.5 146.2,259.1 147.3,253.9 149,256 150.6,257 152,256 154,252.8 156,257 158,250.8 160,247.6 161,257 163,250.8 165,255 168,249.7 172,253.9 175,253.4 178,261 181,250.6 183.5,259.7 187,254.8 189,252.7 191,254.8 192.5,250.6 195,251.3 196.5,253.4 197.5,245.8 199,254.8 201.5,246.5 204.5,254.1 207.5,250 209.5,252 211,254.8 212.5,247.9 213.5,256.9 214.7,247.9 216,256.2 218.5,243.7 220,247.2 221.5,246.5 223,253.4 226,254.1 227.5,252 229,243 230.5,200 231.5,-10 233,-10 234,332.2 249.2,332.2" fill="none" stroke="#4666b6" stroke-width="1.5" stroke-linejoin="round" clip-path="url(#clipc)"/>
<polyline points="95.2,412.5 108.7,365.4 115.2,361 122,357.4 129.7,357 135.7,356.2 143.6,352.1 148.5,356.2 155.7,357.5 163,354.6 169,355.3 176.3,355.8 183.5,353.8 189.6,348.5 196.1,344.2" fill="none" stroke="#d3535e" stroke-width="1.2" stroke-linejoin="round" clip-path="url(#clipd)"/>
<polyline points="95.2,405.7 101.9,377.5 108.7,358.6 115.2,358.6 122,364.2 128.5,385.2 135.7,396.8 140,403.4 149.7,416.2 163,425.4 169,426.4 176.3,429 183.5,430 196.1,430.7" fill="none" stroke="#4666b6" stroke-width="1.65" stroke-linejoin="round" clip-path="url(#clipd)"/>
<polyline points="312,109 338.4,109 348.8,103.2 354.6,103.2 360.4,104.5 370.1,103.2 379.2,104 400.6,103 405.3,101.8 415,103.5 428,103.5 438.8,101.2 444.7,102.8 462.4,102.4 468.2,100.7 473,101.2 483.5,103.5 490.6,108.2 509.6,108.2" fill="none" stroke="#d3535e" stroke-width="1.2" stroke-linejoin="round" clip-path="url(#clipe)"/>
<polyline points="312,109 338.4,109 348.1,105.5 364.9,106 372.7,104.5 381.7,102.3 388.2,98.4 394.7,90 399.4,81.2 405.2,70.6 410.6,64.7 416.5,60 422.4,52.9 430.6,48.2 438.8,41.2 444.7,38.8 449.9,39.5 455.3,32.9 461.6,24.2 468.2,21.6 472.9,18.4 478.1,18.8 484,35.3 490.1,105.4 492.9,108.2 509.6,108.2" fill="none" stroke="#4666b6" stroke-width="1.65" stroke-linejoin="round" clip-path="url(#clipe)"/>
<polyline points="312,220.6 343.6,220.6 349.4,215 354.6,213.5 359.8,215 368.8,215 375.3,214.4 388.2,213.8 400,214.1 423,212.6 438.6,213.8 455.5,213 472.4,213.8 484.5,213.3 495.3,219.8 509.6,219.8" fill="none" stroke="#d3535e" stroke-width="1.2" stroke-linejoin="round" clip-path="url(#clipf)"/>
<polyline points="312,220.6 343.6,220.6 350.7,215.7 354.6,215.4 362.3,216.3 371.4,216 376.6,214.4 384.3,209.2 390.8,202.8 395.3,195 398.2,189.5 406,177.6 416.9,164.3 427.8,156.3 433.8,157.8 443.4,154.2 450.7,149.1 456.7,142.6 462.3,138.5 472.9,134.9 478.4,125.7 484.5,131 490.5,192.1 495.8,219.8 509.6,219.8" fill="none" stroke="#4666b6" stroke-width="1.65" stroke-linejoin="round" clip-path="url(#clipf)"/>
<polyline points="348.7,246 348.9,200 349.5,-10 351,-10 352.4,263 354.6,266 356.8,271.2 358,263.77 359.06,264.29 359.71,255.42 360.35,260.11 361.3,254.35 361.95,260.68 362.61,251.66 363.3,263.93 364.06,251.9 365.06,268.64 365.94,259.02 367.14,261.01 367.94,259.5 368.76,263.08 369.93,258.81 370.98,266.81 371.84,259.02 372.48,260.89 373.22,257.9 374.04,264.27 375.05,255.35 376.21,259.88 377.3,257.98 378.27,264.05 379.48,256.72 380.77,260.96 381.45,250.04 382.15,261.08 383.1,250.24 384.23,258.95 385.23,254.31 386.32,260.25 387.34,252.72 388.52,259.98 389.78,250.49 390.43,258.5 391.52,247.85 392.69,268.64 393.49,250.9 394.11,260.75 395.03,254.56 395.67,257.6 396.81,252.63 397.68,257.44 398.89,249.8 399.88,256.58 401.1,249.63 401.89,262.13 402.78,246.87 404.05,260.51 404.76,251.01 405.52,255.46 406.46,248.89 407.07,253.87 407.96,247.39 409.23,255.78 410.31,244.31 411.38,251.37 412.02,243.85 413.23,255.28 414.39,246.34 415.06,253.02 416.11,248.12 416.85,250.31 417.57,248.64 418.17,250.7 418.87,245.56 419.49,251.82 420.7,246.92 421.48,250.73 422.32,247.29 423.52,250.71 424.81,243.41 425.47,249.95 426.14,246.68 427.32,251.85 428.04,237.01 429.01,250.34 429.71,247.53 430.68,249.04 431.96,244.15 432.75,254.76 433.6,245.21 434.58,256.67 435.72,248.11 436.89,252.97 438.18,245.01 439.35,257.42 440.47,249.79 441.32,256.44 441.94,246.93 442.72,251.5 443.81,245.87 445.06,252.42 446.35,246.72 447.11,252.44 447.87,250.16 448.9,254.38 450.13,248.43 451.19,255.83 452.35,244.95 453.59,254.41 454.73,250.64 455.46,256 456.61,246.07 457.89,257.63 458.77,240.53 459.88,256.57 460.6,247.31 461.83,250.01 462.99,241.47 464.28,252.83 465.34,241.39 466.03,249.79 466.64,238 467.61,246 468.86,235.71 470.04,248.43 470.79,244.38 471.56,248.34 472.57,243.95 473.26,249.17 474.5,240.83 475.51,248.1 476.74,234.14 477.69,248.46 478.66,242.16 479.57,242.99 480.3,234.08 481.02,242.71 481.95,241.31 482.78,248.1 483.74,233.91 484.42,244.52 485.41,241.46 486.55,245.37 487.5,233.99 490,245.5 492,264.4 494,291 495,331.5 496.2,331.5 496.7,279.3 497.2,331.5 509.6,331.5" fill="none" stroke="#7030a0" stroke-width="1.4" stroke-linejoin="round" clip-path="url(#clipg)"/>
<polyline points="348.7,312 349.4,275 351.5,296.4 355.4,269 359.6,291.2 361,288.76 361.95,292.37 362.96,288.07 364.12,293.23 365.1,289.29 366.45,292.01 367.81,285.4 368.62,296.31 369.89,288.33 370.6,292.69 371.26,288.77 372.05,294.24 373.27,289.15 374.59,293.3 375.72,287.16 376.44,295.18 377.21,285.1 378.57,291.27 379.96,286.23 381.23,288.35 382.24,283.63 383.11,285.96 384.29,281.99 384.91,286.22 385.52,282.36 386.39,285.16 387.04,280.5 388.43,283.79 389.11,275.11 389.92,285.91 390.74,280.09 391.44,285.98 392.7,277.73 393.51,283.54 394.56,274.97 395.72,279.98 396.87,278.31 397.81,283.94 398.92,275.31 400.16,281.97 400.82,274.72 402.11,279.07 403.15,275.73 404.49,276.05 405.51,274.2 406.3,276.54 406.94,274.2 407.7,275.81 408.91,272.59 409.74,276.05 410.62,274.18 411.23,274.02 412.42,273.24 413.46,274.51 414.81,270.31 415.49,274.12 416.49,270.37 417.76,275.2 418.91,270.76 420.29,275.29 421.46,268.42 422.57,274.44 423.21,271.07 423.92,276.24 424.72,270.5 425.45,276.6 426.75,269.7 427.88,272.55 428.72,270.22 429.69,273.62 430.5,269.66 431.87,275.17 432.66,271.34 434.03,272.72 434.64,269.52 435.54,274.78 436.3,271.22 437.3,273.68 437.98,271.55 438.9,272.1 439.74,271.37 440.53,274.14 441.73,269.52 442.85,272.06 443.76,265.52 444.63,272.05 445.8,270.2 446.92,274.87 448.23,268.51 449.33,270.11 450.05,264.77 451.06,274.44 452.31,269.39 453.57,274.28 454.72,266.78 455.87,269.64 456.58,268.92 457.47,273.48 458.51,266.56 459.61,272.35 460.61,266.93 461.21,271.14 462.21,265.96 463.24,270.83 464.43,269.77 465.23,272.57 466.41,270.09 467.18,271.63 468.17,264.32 469.08,275.51 470.29,271.45 471.39,273.27 472.1,272.23 472.91,273.61 473.96,271.92 474.57,276.41 475.71,274.4 476.86,276.82 477.88,274.52 478.85,278.3 480.16,277.54 480.92,284.42 481.54,277.99 482.5,282.43 483.46,274.05 484.28,282.39 485.05,275.31 486.11,284.15 487.47,280.69 488.18,285 489.49,281.82 490.65,285.65 492,286 492.9,227.4 493.6,331.5" fill="none" stroke="#5b9b3c" stroke-width="1.4" stroke-linejoin="round" clip-path="url(#clipg)"/>
<line x1="382" y1="241.7" x2="397.5" y2="241.7" stroke="#7030a0" stroke-width="1.3"/>
<path d="M377.5 241.7 L383.2 239.3 L383.2 244.1 Z" fill="#7030a0"/>
<line x1="435" y1="282.8" x2="451" y2="282.8" stroke="#5b9b3c" stroke-width="1.3"/>
<path d="M456.2 282.8 L450.5 280.4 L450.5 285.2 Z" fill="#5b9b3c"/>
<polyline points="348.6,415 348.9,384.4 349.7,372.6 351.7,399.3 355.7,373.3 359.1,392.2 360.7,400.9 362,393.42 363.63,398.88 364.85,392.8 365.82,397.6 367.08,393 367.96,401.7 369.04,391.72 370.46,400.33 371.3,387.69 372.69,397.37 374.04,395.7 375.32,396.23 376.17,394.56 377,397.74 378.21,388.76 379.48,397.18 380.86,388.65 382.07,392.7 383.12,380.18 384.68,390.47 386.11,387.15 387.17,388.71 388.04,384.6 389.6,385.89 390.75,374.6 391.55,382.32 392.53,376.49 394.22,380.69 395.37,373.65 396.88,380.56 397.92,375.9 399.59,380.56 401.07,375.67 401.96,378.23 402.81,374.71 404.12,375.74 405.32,370.34 406.24,377.42 407.62,368.99 408.61,373.86 409.65,364.9 410.72,371.86 412.32,369.22 413.89,372.84 415.27,360.38 416.26,374.71 417.29,367.64 418.36,370.75 419.22,363.4 420.24,369.46 421.58,364.18 423.25,369.45 424.48,360.28 425.45,369.63 426.39,360.94 427.41,369.77 428.38,365.61 429.36,374.36 431.01,362.32 432.19,368.86 433.09,356.79 434.1,367.5 435.53,364.83 436.87,371.42 437.94,362.21 438.8,369.58 439.8,358.06 441.16,366.62 442.21,361.82 443.02,364.85 444.07,362.26 445.02,363.61 446.16,361.25 447.28,363.47 448.88,357.19 450.31,362.69 451.63,361.73 452.45,363.21 454.07,360.09 454.89,371.53 456.26,357.62 457.35,364.1 459.05,359.89 460.51,365.65 462.12,362.07 463.63,366.9 465.26,357.43 466.87,365.52 468.45,356.51 470.03,365.59 471.34,360.58 472.67,365.94 474.02,359.65 475.71,367.15 477.3,365.03 478.76,369.64 480.09,360.8 480.96,371.74 482.44,368.47 483.67,375.91 484.68,374.36 486.03,380.43 487.66,377.56 488.73,377.94 489.5,377.4 491.5,399.8 492.3,403 493,415 493.6,442.6 509.6,442.6" fill="none" stroke="#111" stroke-width="1.3" stroke-linejoin="round" clip-path="url(#cliph)"/>
<path d="M51.5 109.2h4M51.5 103.81h2M51.5 98.43h2M51.5 93.04h2M51.5 87.66h2M51.5 82.27h4M51.5 76.88h2M51.5 71.5h2M51.5 66.11h2M51.5 60.73h2M51.5 55.34h4M51.5 49.95h2M51.5 44.57h2M51.5 39.18h2M51.5 33.8h2M51.5 28.41h4M51.5 23.02h2M51.5 17.64h2M51.5 12.25h2M51.5 6.87h2M51.5 1.48h4" stroke="#555555" stroke-width="0.9" fill="none"/>
<path d="M249.18 109.2h-4M249.18 103.81h-2M249.18 98.43h-2M249.18 93.04h-2M249.18 87.66h-2M249.18 82.27h-4M249.18 76.88h-2M249.18 71.5h-2M249.18 66.11h-2M249.18 60.73h-2M249.18 55.34h-4M249.18 49.95h-2M249.18 44.57h-2M249.18 39.18h-2M249.18 33.8h-2M249.18 28.41h-4M249.18 23.02h-2M249.18 17.64h-2M249.18 12.25h-2M249.18 6.87h-2M249.18 1.48h-4" stroke="#555555" stroke-width="0.9" fill="none"/>
<text x="47.9" y="86.27" font-size="12" text-anchor="end" fill="#000" stroke="#000">0.05</text>
<text x="47.9" y="59.34" font-size="12" text-anchor="end" fill="#000" stroke="#000">0.10</text>
<text x="47.9" y="32.41" font-size="12" text-anchor="end" fill="#000" stroke="#000">0.15</text>
<text x="47.9" y="109.6" font-size="12" text-anchor="end" fill="#000" stroke="#000">0.00</text>
<path d="M51.5 220.6h4M51.5 217.01h2M51.5 213.43h2M51.5 209.84h2M51.5 206.26h2M51.5 202.67h4M51.5 199.08h2M51.5 195.5h2M51.5 191.91h2M51.5 188.33h2M51.5 184.74h4M51.5 181.15h2M51.5 177.57h2M51.5 173.98h2M51.5 170.4h2M51.5 166.81h4M51.5 163.22h2M51.5 159.64h2M51.5 156.05h2M51.5 152.47h2M51.5 148.88h4M51.5 145.29h2M51.5 141.71h2M51.5 138.12h2M51.5 134.54h2M51.5 130.95h4M51.5 127.36h2M51.5 123.78h2M51.5 120.19h2M51.5 116.61h2M51.5 113.02h4" stroke="#555555" stroke-width="0.9" fill="none"/>
<path d="M249.18 220.6h-4M249.18 217.01h-2M249.18 213.43h-2M249.18 209.84h-2M249.18 206.26h-2M249.18 202.67h-4M249.18 199.08h-2M249.18 195.5h-2M249.18 191.91h-2M249.18 188.33h-2M249.18 184.74h-4M249.18 181.15h-2M249.18 177.57h-2M249.18 173.98h-2M249.18 170.4h-2M249.18 166.81h-4M249.18 163.22h-2M249.18 159.64h-2M249.18 156.05h-2M249.18 152.47h-2M249.18 148.88h-4M249.18 145.29h-2M249.18 141.71h-2M249.18 138.12h-2M249.18 134.54h-2M249.18 130.95h-4M249.18 127.36h-2M249.18 123.78h-2M249.18 120.19h-2M249.18 116.61h-2M249.18 113.02h-4" stroke="#555555" stroke-width="0.9" fill="none"/>
<text x="47.9" y="206.67" font-size="12" text-anchor="end" fill="#000" stroke="#000">0.05</text>
<text x="47.9" y="188.74" font-size="12" text-anchor="end" fill="#000" stroke="#000">0.10</text>
<text x="47.9" y="170.81" font-size="12" text-anchor="end" fill="#000" stroke="#000">0.15</text>
<text x="47.9" y="152.88" font-size="12" text-anchor="end" fill="#000" stroke="#000">0.20</text>
<text x="47.9" y="134.95" font-size="12" text-anchor="end" fill="#000" stroke="#000">0.25</text>
<text x="47.9" y="220.5" font-size="12" text-anchor="end" fill="#000" stroke="#000">0.00</text>
<path d="M52 332.6h4M52 329h2M52 325.41h2M52 321.81h2M52 318.22h2M52 314.62h2M52 311.02h2M52 307.43h2M52 303.83h4M52 300.23h2M52 296.64h2M52 293.04h2M52 289.45h2M52 285.85h2M52 282.25h2M52 278.66h2M52 275.06h4M52 271.46h2M52 267.87h2M52 264.27h2M52 260.68h2M52 257.08h2M52 253.48h2M52 249.89h2M52 246.29h4M52 242.69h2M52 239.1h2M52 235.5h2M52 231.91h2M52 228.31h2M52 224.71h2" stroke="#555555" stroke-width="0.9" fill="none"/>
<path d="M249.18 332.6h-4M249.18 329h-2M249.18 325.41h-2M249.18 321.81h-2M249.18 318.22h-2M249.18 314.62h-2M249.18 311.02h-2M249.18 307.43h-2M249.18 303.83h-4M249.18 300.23h-2M249.18 296.64h-2M249.18 293.04h-2M249.18 289.45h-2M249.18 285.85h-2M249.18 282.25h-2M249.18 278.66h-2M249.18 275.06h-4M249.18 271.46h-2M249.18 267.87h-2M249.18 264.27h-2M249.18 260.68h-2M249.18 257.08h-2M249.18 253.48h-2M249.18 249.89h-2M249.18 246.29h-4M249.18 242.69h-2M249.18 239.1h-2M249.18 235.5h-2M249.18 231.91h-2M249.18 228.31h-2M249.18 224.71h-2" stroke="#555555" stroke-width="0.9" fill="none"/>
<text x="47.7" y="250.09" font-size="12" text-anchor="end" fill="#000" stroke="#000"><tspan font-size="11.3">1.2<tspan font-size="10">×</tspan>10<tspan font-size="7.5" dy="-4.5">7</tspan></tspan></text>
<text x="47.7" y="278.86" font-size="12" text-anchor="end" fill="#000" stroke="#000"><tspan font-size="11.3">8.0<tspan font-size="10">×</tspan>10<tspan font-size="7.5" dy="-4.5">6</tspan></tspan></text>
<text x="47.7" y="307.63" font-size="12" text-anchor="end" fill="#000" stroke="#000"><tspan font-size="11.3">4.0<tspan font-size="10">×</tspan>10<tspan font-size="7.5" dy="-4.5">6</tspan></tspan></text>
<text x="48.9" y="332.6" font-size="12" text-anchor="end" fill="#000" stroke="#000">0</text>
<path d="M52.4 443.7h4M52.4 440.14h2M52.4 436.58h2M52.4 433.02h2M52.4 429.46h2M52.4 425.9h4M52.4 422.34h2M52.4 418.78h2M52.4 415.22h2M52.4 411.66h2M52.4 408.1h4M52.4 404.54h2M52.4 400.98h2M52.4 397.42h2M52.4 393.86h2M52.4 390.3h4M52.4 386.74h2M52.4 383.18h2M52.4 379.62h2M52.4 376.06h2M52.4 372.5h4M52.4 368.94h2M52.4 365.38h2M52.4 361.82h2M52.4 358.26h2M52.4 354.7h4M52.4 351.14h2M52.4 347.58h2M52.4 344.02h2M52.4 340.46h2M52.4 336.9h4" stroke="#555555" stroke-width="0.9" fill="none"/>
<path d="M249.18 443.7h-4M249.18 440.14h-2M249.18 436.58h-2M249.18 433.02h-2M249.18 429.46h-2M249.18 425.9h-4M249.18 422.34h-2M249.18 418.78h-2M249.18 415.22h-2M249.18 411.66h-2M249.18 408.1h-4M249.18 404.54h-2M249.18 400.98h-2M249.18 397.42h-2M249.18 393.86h-2M249.18 390.3h-4M249.18 386.74h-2M249.18 383.18h-2M249.18 379.62h-2M249.18 376.06h-2M249.18 372.5h-4M249.18 368.94h-2M249.18 365.38h-2M249.18 361.82h-2M249.18 358.26h-2M249.18 354.7h-4M249.18 351.14h-2M249.18 347.58h-2M249.18 344.02h-2M249.18 340.46h-2M249.18 336.9h-4" stroke="#555555" stroke-width="0.9" fill="none"/>
<text x="49.1" y="429.9" font-size="12" text-anchor="end" fill="#000" stroke="#000">2</text>
<text x="49.1" y="412.1" font-size="12" text-anchor="end" fill="#000" stroke="#000">4</text>
<text x="49.1" y="394.3" font-size="12" text-anchor="end" fill="#000" stroke="#000">6</text>
<text x="49.1" y="376.5" font-size="12" text-anchor="end" fill="#000" stroke="#000">8</text>
<text x="48.1" y="358.7" font-size="12" text-anchor="end" fill="#000" stroke="#000">10</text>
<text x="49.4" y="445.3" font-size="12" text-anchor="end" fill="#000" stroke="#000">0</text>
<path d="M312 109.5h4M312 105.17h2M312 100.83h2M312 96.5h2M312 92.16h2M312 87.83h4M312 83.5h2M312 79.16h2M312 74.83h2M312 70.49h2M312 66.16h4M312 61.83h2M312 57.49h2M312 53.16h2M312 48.82h2M312 44.49h4M312 40.16h2M312 35.82h2M312 31.49h2M312 27.15h2M312 22.82h4M312 18.49h2M312 14.15h2M312 9.82h2M312 5.48h2" stroke="#555555" stroke-width="0.9" fill="none"/>
<text x="307.6" y="91.83" font-size="12" text-anchor="end" fill="#000" stroke="#000">0.05</text>
<text x="307.6" y="70.16" font-size="12" text-anchor="end" fill="#000" stroke="#000">0.10</text>
<text x="307.6" y="48.49" font-size="12" text-anchor="end" fill="#000" stroke="#000">0.15</text>
<text x="307.6" y="26.82" font-size="12" text-anchor="end" fill="#000" stroke="#000">0.20</text>
<text x="307.6" y="109.8" font-size="12" text-anchor="end" fill="#000" stroke="#000">0.00</text>
<path d="M509.68 109.6h-4M509.68 103h-2M509.68 96.4h-2M509.68 89.8h-2M509.68 83.2h-4M509.68 76.6h-2M509.68 70h-2M509.68 63.4h-2M509.68 56.8h-4M509.68 50.2h-2M509.68 43.6h-2M509.68 37h-2M509.68 30.4h-4M509.68 23.8h-2M509.68 17.2h-2M509.68 10.6h-2M509.68 4h-4" stroke="#555555" stroke-width="0.9" fill="none"/>
<text x="510.98" y="87.2" font-size="12" text-anchor="start" fill="#000" stroke="#000">2</text>
<text x="510.98" y="60.8" font-size="12" text-anchor="start" fill="#000" stroke="#000">4</text>
<text x="510.98" y="34.4" font-size="12" text-anchor="start" fill="#000" stroke="#000">6</text>
<text x="510.98" y="109.8" font-size="12" text-anchor="start" fill="#000" stroke="#000">0</text>
<text x="510.98" y="8.3" font-size="12" text-anchor="start" fill="#000" stroke="#000">8</text>
<path d="M312 220.7h4M312 217.61h2M312 214.52h2M312 211.42h2M312 208.33h2M312 205.24h4M312 202.15h2M312 199.06h2M312 195.96h2M312 192.87h2M312 189.78h4M312 186.69h2M312 183.6h2M312 180.5h2M312 177.41h2M312 174.32h4M312 171.23h2M312 168.14h2M312 165.04h2M312 161.95h2M312 158.86h4M312 155.77h2M312 152.68h2M312 149.58h2M312 146.49h2M312 143.4h4M312 140.31h2M312 137.22h2M312 134.12h2M312 131.03h2M312 127.94h4M312 124.85h2M312 121.76h2M312 118.66h2M312 115.57h2" stroke="#555555" stroke-width="0.9" fill="none"/>
<text x="309.2" y="209.24" font-size="12" text-anchor="end" fill="#000" stroke="#000">0.2</text>
<text x="309.2" y="193.78" font-size="12" text-anchor="end" fill="#000" stroke="#000">0.4</text>
<text x="309.2" y="178.32" font-size="12" text-anchor="end" fill="#000" stroke="#000">0.6</text>
<text x="309.2" y="162.86" font-size="12" text-anchor="end" fill="#000" stroke="#000">0.8</text>
<text x="309.2" y="147.4" font-size="12" text-anchor="end" fill="#000" stroke="#000">1.0</text>
<text x="309.2" y="131.94" font-size="12" text-anchor="end" fill="#000" stroke="#000">1.2</text>
<text x="309.2" y="220.4" font-size="12" text-anchor="end" fill="#000" stroke="#000">0.0</text>
<path d="M509.68 220.8h-4M509.68 217.81h-2M509.68 214.82h-2M509.68 211.83h-2M509.68 208.84h-2M509.68 205.85h-2M509.68 202.86h-2M509.68 199.87h-2M509.68 196.88h-2M509.68 193.89h-2M509.68 190.9h-4M509.68 187.91h-2M509.68 184.92h-2M509.68 181.93h-2M509.68 178.94h-2M509.68 175.95h-2M509.68 172.96h-2M509.68 169.97h-2M509.68 166.98h-2M509.68 163.99h-2M509.68 161h-4M509.68 158.01h-2M509.68 155.02h-2M509.68 152.03h-2M509.68 149.04h-2M509.68 146.05h-2M509.68 143.06h-2M509.68 140.07h-2M509.68 137.08h-2M509.68 134.09h-2M509.68 131.1h-4M509.68 128.11h-2M509.68 125.12h-2M509.68 122.13h-2M509.68 119.14h-2M509.68 116.15h-2M509.68 113.16h-2" stroke="#555555" stroke-width="0.9" fill="none"/>
<text x="511.18" y="194.9" font-size="12" text-anchor="start" fill="#000" stroke="#000">10</text>
<text x="511.18" y="165" font-size="12" text-anchor="start" fill="#000" stroke="#000">20</text>
<text x="511.18" y="135.1" font-size="12" text-anchor="start" fill="#000" stroke="#000">30</text>
<text x="511.18" y="220.7" font-size="12" text-anchor="start" fill="#000" stroke="#000">0</text>
<path d="M312 331.7h4M312 326.34h2M312 320.98h2M312 315.62h2M312 310.26h2M312 304.9h4M312 299.54h2M312 294.18h2M312 288.82h2M312 283.46h2M312 278.1h4M312 272.74h2M312 267.38h2M312 262.02h2M312 256.66h2M312 251.3h4M312 245.94h2M312 240.58h2M312 235.22h2M312 229.86h2M312 224.5h4" stroke="#7030a0" stroke-width="0.9" fill="none"/>
<text x="309" y="280.6" font-size="12" text-anchor="end" fill="#7a44a6" stroke="#7a44a6">10</text>
<text x="309" y="253.8" font-size="12" text-anchor="end" fill="#7a44a6" stroke="#7a44a6">15</text>
<text x="306.2" y="307.4" font-size="12" text-anchor="end" fill="#7a44a6" stroke="#7a44a6">5</text>
<text x="306.2" y="331.6" font-size="12" text-anchor="end" fill="#7a44a6" stroke="#7a44a6">0</text>
<path d="M509.68 331.7h-4M509.68 326.25h-2M509.68 320.8h-2M509.68 315.35h-2M509.68 309.9h-4M509.68 304.45h-2M509.68 299h-2M509.68 293.55h-2M509.68 288.1h-4M509.68 282.65h-2M509.68 277.2h-2M509.68 271.75h-2M509.68 266.3h-4M509.68 260.85h-2M509.68 255.4h-2M509.68 249.95h-2M509.68 244.5h-4M509.68 239.05h-2M509.68 233.6h-2" stroke="#5b9b3c" stroke-width="0.9" fill="none"/>
<text x="511.48" y="312.9" font-size="12" text-anchor="start" fill="#62a244" stroke="#62a244">0.2</text>
<text x="511.48" y="291.1" font-size="12" text-anchor="start" fill="#62a244" stroke="#62a244">0.4</text>
<text x="511.48" y="269.3" font-size="12" text-anchor="start" fill="#62a244" stroke="#62a244">0.6</text>
<text x="511.48" y="247.5" font-size="12" text-anchor="start" fill="#62a244" stroke="#62a244">0.8</text>
<text x="511.48" y="332" font-size="12" text-anchor="start" fill="#62a244" stroke="#62a244">0.0</text>
<path d="M312 442.9h4M312 438.64h2M312 434.38h2M312 430.12h2M312 425.86h2M312 421.6h4M312 417.34h2M312 413.08h2M312 408.82h2M312 404.56h2M312 400.3h4M312 396.04h2M312 391.78h2M312 387.52h2M312 383.26h2M312 379h4M312 374.74h2M312 370.48h2M312 366.22h2M312 361.96h2M312 357.7h4M312 353.44h2M312 349.18h2M312 344.92h2M312 340.66h2M312 336.4h4" stroke="#555555" stroke-width="0.9" fill="none"/>
<path d="M509.68 442.9h-4M509.68 438.64h-2M509.68 434.38h-2M509.68 430.12h-2M509.68 425.86h-2M509.68 421.6h-4M509.68 417.34h-2M509.68 413.08h-2M509.68 408.82h-2M509.68 404.56h-2M509.68 400.3h-4M509.68 396.04h-2M509.68 391.78h-2M509.68 387.52h-2M509.68 383.26h-2M509.68 379h-4M509.68 374.74h-2M509.68 370.48h-2M509.68 366.22h-2M509.68 361.96h-2M509.68 357.7h-4M509.68 353.44h-2M509.68 349.18h-2M509.68 344.92h-2M509.68 340.66h-2M509.68 336.4h-4" stroke="#555555" stroke-width="0.9" fill="none"/>
<text x="309" y="425.6" font-size="12" text-anchor="end" fill="#000" stroke="#000">0.5</text>
<text x="309" y="404.3" font-size="12" text-anchor="end" fill="#000" stroke="#000">1.0</text>
<text x="309" y="383" font-size="12" text-anchor="end" fill="#000" stroke="#000">1.5</text>
<text x="309" y="361.7" font-size="12" text-anchor="end" fill="#000" stroke="#000">2.0</text>
<text x="309.4" y="445.4" font-size="12" text-anchor="end" fill="#000" stroke="#000">0.0</text>
<text x="51.5" y="460" font-size="12" text-anchor="middle" fill="#000" stroke="#000">2</text>
<text x="312" y="457" font-size="12" text-anchor="middle" fill="#000" stroke="#000">2</text>
<text x="79.74" y="460" font-size="12" text-anchor="middle" fill="#000" stroke="#000">3</text>
<text x="340.24" y="457" font-size="12" text-anchor="middle" fill="#000" stroke="#000">3</text>
<text x="107.98" y="460" font-size="12" text-anchor="middle" fill="#000" stroke="#000">4</text>
<text x="368.48" y="457" font-size="12" text-anchor="middle" fill="#000" stroke="#000">4</text>
<text x="136.22" y="460" font-size="12" text-anchor="middle" fill="#000" stroke="#000">5</text>
<text x="396.72" y="457" font-size="12" text-anchor="middle" fill="#000" stroke="#000">5</text>
<text x="164.46" y="460" font-size="12" text-anchor="middle" fill="#000" stroke="#000">6</text>
<text x="424.96" y="457" font-size="12" text-anchor="middle" fill="#000" stroke="#000">6</text>
<text x="192.7" y="460" font-size="12" text-anchor="middle" fill="#000" stroke="#000">7</text>
<text x="453.2" y="457" font-size="12" text-anchor="middle" fill="#000" stroke="#000">7</text>
<text x="220.94" y="460" font-size="12" text-anchor="middle" fill="#000" stroke="#000">8</text>
<text x="481.44" y="457" font-size="12" text-anchor="middle" fill="#000" stroke="#000">8</text>
<text x="249.18" y="460" font-size="12" text-anchor="middle" fill="#000" stroke="#000">9</text>
<text x="509.68" y="457" font-size="12" text-anchor="middle" fill="#000" stroke="#000">9</text>
<text x="145.4" y="472.9" font-size="13.3" text-anchor="middle" fill="#000" stroke="#000">time (s)</text>
<text x="407.9" y="472.9" font-size="13.3" text-anchor="middle" fill="#000" stroke="#000">time (s)</text>
<text x="57.8" y="20.5" font-size="13.6" font-weight="bold" fill="#000" stroke="#000">(a) H<tspan font-weight="normal">γ</tspan></text>
<text x="57.8" y="130.5" font-size="13.6" font-weight="bold" fill="#000" stroke="#000">(b) B I</text>
<text x="57.8" y="241.2" font-size="13.6" font-weight="bold" fill="#000" stroke="#000">(c) B V</text>
<text x="57.8" y="351.9" font-size="13.6" font-weight="bold" fill="#000" stroke="#000">(d)</text>
<text x="320.7" y="19.4" font-size="13.6" font-weight="bold" fill="#000" stroke="#000">(e) BH</text>
<text x="320.7" y="130" font-size="13.6" font-weight="bold" fill="#000" stroke="#000">(f) B II</text>
<text x="320.7" y="241.4" font-size="13.6" font-weight="bold" fill="#000" stroke="#000">(g)</text>
<text x="320.7" y="351.9" font-size="13.6" font-weight="bold" fill="#000" stroke="#000">(h)</text>
<text transform="translate(21,115.2) rotate(-90)" font-size="11.8" text-anchor="middle" fill="#000" stroke="#000">Intensity (W m<tspan font-size="7" dy="-4.5">-2</tspan><tspan dy="4.5"> sr</tspan><tspan font-size="7" dy="-4.5">-1</tspan><tspan dy="4.5">)</tspan></text>
<text transform="translate(281,115.3) rotate(-90)" font-size="11.8" text-anchor="middle" fill="#000" stroke="#000">Intensity (W m<tspan font-size="7" dy="-4.5">-2</tspan><tspan dy="4.5"> sr</tspan><tspan font-size="7" dy="-4.5">-1</tspan><tspan dy="4.5">)</tspan></text>
<text transform="translate(9.5,277.2) rotate(-90)" font-size="12" text-anchor="middle" fill="#000" stroke="#000">Intensity (a.u.)</text>
<text transform="translate(32.6,391.9) rotate(-90)" font-size="11.6" text-anchor="middle" fill="#000" stroke="#000">C<tspan font-size="7" dy="-4.5">6+</tspan><tspan dy="4.5"> density (10</tspan><tspan font-size="7" dy="-4.5">18</tspan><tspan dy="4.5"> m</tspan><tspan font-size="7" dy="-4.5">-3</tspan><tspan dy="4.5">)</tspan></text>
<text transform="translate(536.5,113.9) rotate(-90)" font-size="12" text-anchor="middle" fill="#000" stroke="#000">influx (10<tspan font-size="7" dy="-4.5">18</tspan><tspan dy="4.5"> m</tspan><tspan font-size="7" dy="-4.5">-2</tspan><tspan dy="4.5"> s</tspan><tspan font-size="7" dy="-4.5">-1</tspan><tspan dy="4.5">)</tspan></text>
<text transform="translate(294.2,276.5) rotate(-90)" font-size="12" text-anchor="middle" fill="#7a44a6" stroke="#7a44a6">T<tspan font-size="8" dy="2.5">e</tspan><tspan dy="-2.5"> (eV)</tspan></text>
<text transform="translate(536.9,282.9) rotate(-90)" font-size="12" text-anchor="middle" fill="#62a244" stroke="#62a244">N<tspan font-size="8" dy="2.5">e</tspan><tspan dy="-2.5"> 10</tspan><tspan font-size="7" dy="-4.5">18</tspan><tspan dy="4.5"> m</tspan><tspan font-size="7" dy="-4.5">-3</tspan></text>
<text transform="translate(287.8,396.7) rotate(-90)" font-size="11.7" text-anchor="middle" fill="#000" stroke="#000">Particle flux (10<tspan font-size="7" dy="-4.5">22</tspan><tspan dy="4.5"> m</tspan><tspan font-size="7" dy="-4.5">-2</tspan><tspan dy="4.5"> s</tspan><tspan font-size="7" dy="-4.5">-1</tspan><tspan dy="4.5">)</tspan></text>
</svg>
</body></html>
